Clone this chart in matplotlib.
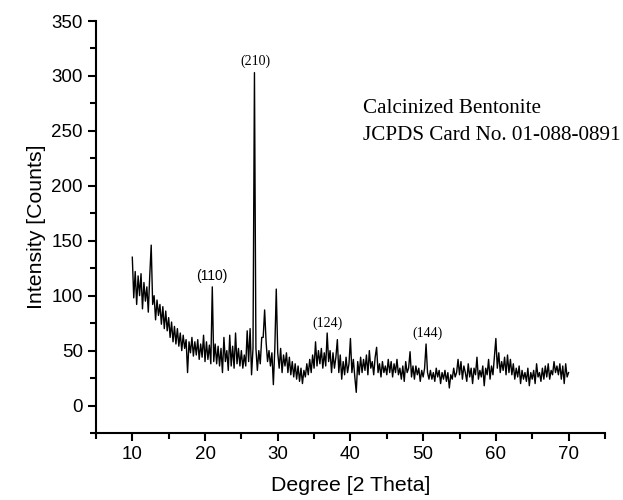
import numpy as np
import matplotlib
matplotlib.use("Agg")
import matplotlib.pyplot as plt
from matplotlib.ticker import MultipleLocator

# 2-theta grid: 10.0 .. 70.0 in 0.2 deg steps
two_theta = np.round(np.arange(10.0, 70.0001, 0.2), 1)

# Intensity values (5 per degree, 10.0 ... 69.8, then 70.0)
intensity = [
    135, 98, 122, 92, 118,      # 10
    100, 120, 88, 112, 95,      # 11
    108, 85, 118, 146, 92,      # 12
    100, 78, 96, 82, 92,        # 13
    74, 90, 70, 86, 68,         # 14
    80, 62, 76, 58, 72,         # 15
    56, 70, 54, 66, 50,         # 16
    64, 52, 60, 30, 58,         # 17
    48, 62, 45, 58, 46,         # 18
    60, 42, 56, 44, 64,         # 19
    40, 58, 42, 55, 38,         # 20
    108, 40, 56, 38, 54,        # 21
    36, 52, 30, 62, 40,         # 22
    50, 32, 64, 36, 54,         # 23
    34, 66, 38, 52, 36,         # 24
    50, 34, 46, 36, 68,         # 25
    40, 70, 28, 52, 303,        # 26
    52, 32, 50, 38, 62,         # 27
    62, 87, 58, 40, 50,         # 28
    36, 48, 19, 52, 106,        # 29
    48, 34, 52, 30, 46,         # 30
    36, 48, 30, 44, 28,         # 31
    40, 26, 38, 24, 36,         # 32
    22, 34, 20, 32, 26,         # 33
    38, 28, 42, 30, 46,         # 34
    34, 58, 36, 50, 38,         # 35
    52, 34, 48, 36, 66,         # 36
    40, 50, 30, 48, 34,         # 37
    44, 60, 30, 46, 24,         # 38
    40, 28, 44, 30, 38,         # 39
    61, 30, 42, 26, 12,         # 40
    40, 28, 44, 30, 42,         # 41
    32, 46, 28, 50, 34,         # 42
    40, 28, 44, 53, 30,         # 43
    38, 26, 40, 30, 36,         # 44
    28, 42, 30, 40, 26,         # 45
    38, 30, 42, 28, 34,         # 46
    24, 36, 22, 40, 30,         # 47
    34, 49, 26, 36, 24,         # 48
    36, 28, 34, 22, 32,         # 49
    26, 34, 56, 30, 24,         # 50
    32, 24, 30, 22, 34,         # 51
    26, 32, 20, 30, 24,         # 52
    32, 22, 30, 16, 28,         # 53
    24, 34, 26, 30, 42,         # 54
    28, 40, 24, 36, 30,         # 55
    22, 38, 26, 34, 20,         # 56
    34, 28, 44, 24, 32,         # 57
    26, 36, 18, 34, 28,         # 58
    42, 24, 36, 28, 44,         # 59
    61, 34, 48, 30, 40,         # 60
    32, 44, 28, 46, 30,         # 61
    42, 28, 38, 24, 34,         # 62
    26, 36, 20, 32, 24,         # 63
    30, 22, 34, 18, 30,         # 64
    24, 32, 20, 38, 26,         # 65
    30, 22, 34, 24, 36,         # 66
    26, 38, 24, 32, 28,         # 67
    40, 30, 36, 28, 38,         # 68
    24, 36, 20, 38, 26,         # 69
    30,                         # 70
]

peak_labels = ["(110)", "(210)", "(124)", "(144)"]
peak_label_x = [21.0, 26.9, 36.9, 50.6]
peak_label_y = [118, 313, 75, 66]
peak_label_serif = [False, True, True, True]

info_lines = ["Calcinized Bentonite", "JCPDS Card No. 01-088-0891"]

fig = plt.figure(figsize=(6.23, 5.0), dpi=100)
ax = fig.add_axes([0.154, 0.134, 0.817, 0.824])

ax.plot(two_theta, intensity, color="black", linewidth=1.0)

for lab, lx, ly, serif in zip(peak_labels, peak_label_x, peak_label_y, peak_label_serif):
    ax.text(lx, ly, lab, ha="center", va="center", fontsize=10,
            family="Liberation Serif" if serif else "Liberation Sans")

ax.text(41.7, 270, info_lines[0], ha="left", va="center", fontsize=15.2,
        family="Liberation Serif")
ax.text(41.7, 246, info_lines[1], ha="left", va="center", fontsize=15.2,
        family="Liberation Serif")

ax.set_xlim(5, 75)
ax.set_ylim(-25, 350)
ax.xaxis.set_minor_locator(MultipleLocator(5))
ax.yaxis.set_minor_locator(MultipleLocator(25))
ax.set_xticks([10, 20, 30, 40, 50, 60, 70])
ax.set_yticks([0, 50, 100, 150, 200, 250, 300, 350])

for s in ["top", "right"]:
    ax.spines[s].set_visible(False)
for s in ["left", "bottom"]:
    ax.spines[s].set_linewidth(1.5)

ax.tick_params(which="major", direction="out", length=6, width=1.5,
               labelsize=13.5)
ax.tick_params(which="minor", direction="out", length=4, width=1.5)
for lbl in ax.get_xticklabels() + ax.get_yticklabels():
    lbl.set_family("Liberation Sans")

ax.set_xlabel("Degree [2 Theta]", fontsize=15.3, family="Liberation Sans", labelpad=9)
ax.set_ylabel("Intensity [Counts]", fontsize=15.3, family="Liberation Sans", labelpad=4)

fig.savefig("out.png", dpi=100)
